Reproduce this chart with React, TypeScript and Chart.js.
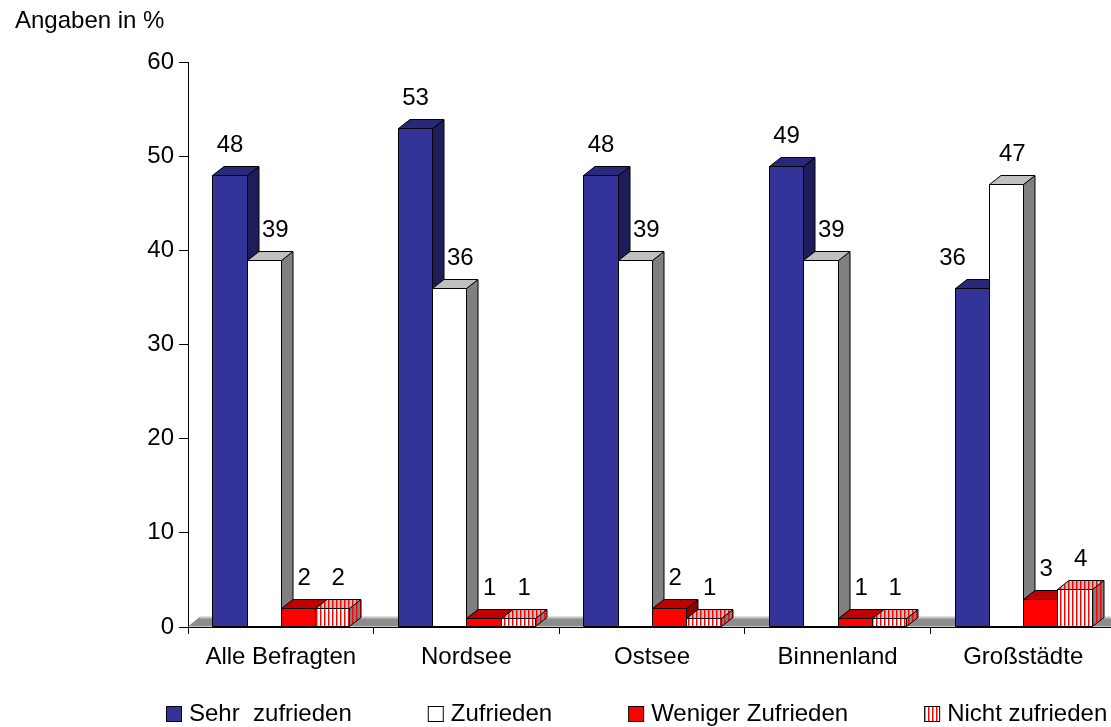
import { useEffect, useRef } from "react";
import { Chart, registerables } from "chart.js";

Chart.register(...registerables);

// Survey results, values in percent
const categories = ["Alle Befragten", "Nordsee", "Ostsee", "Binnenland", "Großstädte"];
const seriesNames = ["Sehr  zufrieden", "Zufrieden", "Weniger Zufrieden", "Nicht zufrieden"];
const sehrZufrieden = [48, 53, 48, 49, 36];
const zufrieden = [39, 36, 39, 39, 47];
const wenigerZufrieden = [2, 1, 2, 1, 3];
const nichtZufrieden = [2, 1, 1, 1, 4];
const yTicks = [0, 10, 20, 30, 40, 50, 60];
const unitLabel = "Angaben in %";

const FONT = '"Liberation Sans", Arial, sans-serif';
const FONT_SIZE = 24;
// projected depth of the 3D bars
const DEPTH_X = 11.5;
const DEPTH_Y = 9;

type Fill = string | CanvasPattern;
type Faces = { front: Fill; top: Fill; side: Fill; labelShift: number };

function App() {
  const ref = useRef<HTMLCanvasElement>(null);

  useEffect(() => {
    const canvas = ref.current;
    if (!canvas) return;
    const ctx = canvas.getContext("2d")!;

    // vertical red stripes on a given base colour
    const striped = (base: string): CanvasPattern => {
      const tile = document.createElement("canvas");
      tile.width = 4;
      tile.height = 4;
      const g = tile.getContext("2d")!;
      g.fillStyle = base;
      g.fillRect(0, 0, 4, 4);
      g.fillStyle = "#ff0000";
      g.fillRect(0, 0, 1, 4);
      g.fillStyle = "rgba(255,0,0,0.45)";
      g.fillRect(1, 0, 1, 4);
      return ctx.createPattern(tile, "repeat")!;
    };

    const faces: Faces[] = [
      { front: "#333399", top: "#29297c", side: "#1d1d5a", labelShift: 0 },
      { front: "#ffffff", top: "#c0c0c0", side: "#808080", labelShift: DEPTH_X / 2 },
      { front: "#ff0000", top: "#c00000", side: "#8c0000", labelShift: DEPTH_X / 2 },
      {
        front: striped("#ffffff"),
        top: striped("#c0c0c0"),
        side: striped("#808080"),
        labelShift: DEPTH_X / 2,
      },
    ];
    const seriesData = [sehrZufrieden, zufrieden, wenigerZufrieden, nichtZufrieden];

    const poly = (c: CanvasRenderingContext2D, pts: number[][], fill: Fill) => {
      c.beginPath();
      c.moveTo(pts[0][0], pts[0][1]);
      for (let i = 1; i < pts.length; i++) c.lineTo(pts[i][0], pts[i][1]);
      c.closePath();
      c.fillStyle = fill;
      c.fill();
      c.stroke();
    };

    const bars3d = {
      id: "bars3d",
      afterDatasetsDraw(chart: any) {
        const c: CanvasRenderingContext2D = chart.ctx;
        const area = chart.chartArea;
        const base = Math.round(chart.scales.y.getPixelForValue(0)) - 0.5;
        c.save();

        // floor
        c.beginPath();
        c.moveTo(area.left, base);
        c.lineTo(area.right, base);
        c.lineTo(area.right + DEPTH_X, base - DEPTH_Y - 0.5);
        c.lineTo(area.left + DEPTH_X, base - DEPTH_Y - 0.5);
        c.closePath();
        c.fillStyle = "#8c8c8c";
        c.fill();
        c.beginPath();
        c.moveTo(area.left + DEPTH_X, base - DEPTH_Y);
        c.lineTo(area.right + DEPTH_X, base - DEPTH_Y);
        c.strokeStyle = "#c4c4c4";
        c.lineWidth = 2;
        c.stroke();

        c.strokeStyle = "#000000";
        c.lineWidth = 1;
        c.lineJoin = "miter";

        type BarBox = { left: number; right: number; top: number; val: number; shift: number };
        const boxes: BarBox[][] = [];

        categories.forEach((_, i) => {
          const row: BarBox[] = [];
          seriesData.forEach((series, k) => {
            const el = chart.getDatasetMeta(k).data[i];
            const p = el.getProps(["x", "y", "base", "width"], true);
            const left = Math.round(p.x - p.width / 2) + 0.5;
            const right = Math.round(p.x + p.width / 2) + 0.5;
            const top = Math.round(p.y) + 0.5;
            const f = faces[k];
            // right side face
            poly(c, [[right, top], [right + DEPTH_X, top - DEPTH_Y], [right + DEPTH_X, base - DEPTH_Y], [right, base]], f.side);
            // top face
            poly(c, [[left, top], [left + DEPTH_X, top - DEPTH_Y], [right + DEPTH_X, top - DEPTH_Y], [right, top]], f.top);
            // front face
            poly(c, [[left, top], [right, top], [right, base], [left, base]], f.front);
            row.push({ left, right, top, val: series[i], shift: f.labelShift });
          });
          boxes.push(row);
        });

        // value labels above the bars, nudged away from taller neighbours
        c.font = `${FONT_SIZE}px ${FONT}`;
        c.fillStyle = "#000000";
        c.textAlign = "center";
        c.textBaseline = "alphabetic";
        boxes.forEach((row) => {
          row.forEach((b, k) => {
            const text = String(b.val);
            const w = c.measureText(text).width;
            const baseline = b.top - DEPTH_Y - 15;
            let cx = (b.left + b.right) / 2 + b.shift;
            const prev = k > 0 ? row[k - 1] : null;
            const next = k < row.length - 1 ? row[k + 1] : null;
            if (prev && prev.val > b.val) {
              const minLeft = prev.right + DEPTH_X + 3;
              if (cx - w / 2 < minLeft) cx = minLeft + w / 2;
            }
            if (next && next.top - DEPTH_Y < baseline) {
              const maxRight = next.left - 12;
              if (cx + w / 2 > maxRight) cx = b.left - 3;
            }
            c.fillText(text, cx, baseline);
          });
        });
        c.restore();
      },
      afterDraw(chart: any) {
        const c: CanvasRenderingContext2D = chart.ctx;
        c.save();
        c.font = `${FONT_SIZE}px ${FONT}`;
        c.fillStyle = "#000000";
        c.textAlign = "left";
        c.textBaseline = "alphabetic";
        c.fillText(unitLabel, 15, 28);

        // legend row
        const box = 15;
        const gap = 76;
        const yBox = 706;
        let x = 166;
        c.strokeStyle = "#000000";
        c.lineWidth = 1;
        seriesNames.forEach((name, k) => {
          c.fillStyle = faces[k].front;
          c.fillRect(x + 0.5, yBox + 0.5, box, box);
          c.strokeRect(x + 0.5, yBox + 0.5, box, box);
          c.fillStyle = "#000000";
          c.fillText(name, x + 23, 721);
          x += 23 + c.measureText(name).width + gap;
        });
        c.restore();
      },
    };

    const chart = new Chart(canvas, {
      type: "bar",
      data: {
        labels: categories,
        datasets: seriesNames.map((name, k) => ({
          label: name,
          data: seriesData[k],
          backgroundColor: "rgba(0,0,0,0)",
          borderWidth: 0,
          categoryPercentage: 0.739,
          barPercentage: 1,
        })),
      },
      options: {
        responsive: false,
        animation: false,
        devicePixelRatio: 1,
        events: [],
        layout: { padding: { top: 62, left: 0, right: 0, bottom: 0 } },
        plugins: { legend: { display: false }, tooltip: { enabled: false } },
        scales: {
          x: {
            offset: true,
            grid: {
              display: true,
              offset: true,
              drawOnChartArea: false,
              drawTicks: true,
              tickLength: 7,
              color: "#000000",
            },
            border: { display: true, color: "#000000", width: 1 },
            ticks: {
              color: "#000000",
              font: { family: FONT, size: FONT_SIZE },
              padding: 9,
              maxRotation: 0,
              autoSkip: false,
            },
            afterFit: (scale: any) => {
              scale.height = 100;
            },
          },
          y: {
            min: 0,
            max: 60,
            grid: {
              display: true,
              drawOnChartArea: false,
              drawTicks: true,
              tickLength: 9,
              color: "#000000",
            },
            border: { display: true, color: "#000000", width: 1 },
            ticks: {
              color: "#000000",
              font: { family: FONT, size: FONT_SIZE },
              padding: 5,
            },
            afterBuildTicks: (scale: any) => {
              scale.ticks = yTicks.map((v) => ({ value: v }));
            },
            afterFit: (scale: any) => {
              scale.width = 188;
            },
          },
        },
      },
      plugins: [bars3d],
    });

    return () => chart.destroy();
  }, []);

  return (
    <div
      style={{
        position: "absolute",
        left: 0,
        top: 0,
        width: 1111,
        height: 727,
        overflow: "hidden",
        background: "#ffffff",
      }}
    >
      <canvas ref={ref} width={1116} height={727} style={{ display: "block" }} />
    </div>
  );
}

export default App;
